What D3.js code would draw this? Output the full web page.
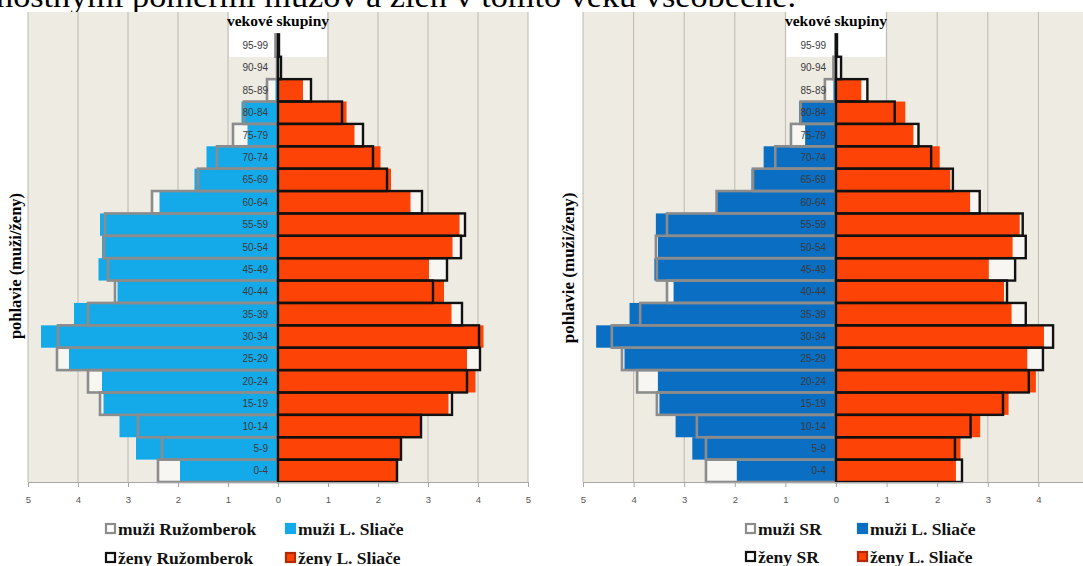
<!DOCTYPE html>
<html>
<head>
<meta charset="utf-8">
<script src="https://cdn.jsdelivr.net/npm/d3@7"></script>
<style>
  body { margin: 0; background: #fff; overflow: hidden; }
  svg { display: block; }
</style>
</head>
<body>
<svg id="chart" width="1083" height="566"></svg>
<script>
// age groups bottom -> top
const ageGroups = ["0-4", "5-9", "10-14", "15-19", "20-24", "25-29", "30-34", "35-39", "40-44", "45-49",
  "50-54", "55-59", "60-64", "65-69", "70-74", "75-79", "80-84", "85-89", "90-94", "95-99"];
const tickValues = [-5, -4, -3, -2, -1, 0, 1, 2, 3, 4, 5];

// percentages of population
const muziSliace = [1.96, 2.84, 3.17, 3.49, 3.52, 4.18, 4.74, 4.08, 3.21, 3.59, 3.52, 3.56, 2.37, 1.67, 1.43, 0.61, 0.73, 0.05, 0, 0];
const zenySliace = [2.37, 2.46, 2.85, 3.41, 3.95, 3.78, 4.11, 3.47, 3.32, 3.02, 3.49, 3.63, 2.65, 2.26, 2.05, 1.53, 1.37, 0.5, 0.02, 0.01];
const muziRuzomberok = [2.4, 2.32, 2.8, 3.56, 3.8, 4.42, 4.4, 3.8, 3.26, 3.4, 3.48, 3.46, 2.52, 1.6, 1.22, 0.9, 0.68, 0.22, 0.02, 0.05];
const zenyRuzomberok = [2.38, 2.46, 2.86, 3.48, 3.78, 4.04, 4.02, 3.68, 3.1, 3.38, 3.66, 3.74, 2.88, 2.18, 1.9, 1.7, 1.28, 0.66, 0.06, 0.02];
const muziSR = [2.57, 2.57, 2.75, 3.54, 3.93, 4.23, 4.43, 3.87, 3.34, 3.54, 3.56, 3.34, 2.36, 1.64, 1.2, 0.89, 0.7, 0.22, 0.05, 0.01];
const zenySR = [2.49, 2.35, 2.66, 3.3, 3.81, 4.09, 4.29, 3.75, 3.38, 3.54, 3.75, 3.69, 2.84, 2.31, 1.88, 1.63, 1.16, 0.62, 0.1, 0.02];

const red = "#fd4306";
const greyLine = "#8c8c8c";
const blackLine = "#111";
const serif = "'Liberation Serif', 'Times New Roman', serif";

const svg = d3.select("#chart");

// cut-off line of the page text above the charts
svg.append("text")
  .attr("x", -4)
  .attr("y", 7)
  .attr("font-family", serif)
  .attr("font-size", 31)
  .attr("textLength", 800)
  .attr("lengthAdjust", "spacingAndGlyphs")
  .attr("fill", "#000")
  .text("nostnými pomermi mužov a žien v tomto veku všeobecne.");

function drawPyramid(cfg) {
  const g = svg.append("g");

  const x = d3.scaleLinear().domain([-5, 5]).range([cfg.left, cfg.right]);
  // one empty slot on top for the title
  const y = d3.scaleBand()
    .domain([...ageGroups, "top"])
    .range([cfg.bottom, cfg.top]);
  const zero = x(0);

  g.append("rect")
    .attr("x", cfg.left)
    .attr("y", cfg.top)
    .attr("width", cfg.right - cfg.left)
    .attr("height", cfg.bottom - cfg.top)
    .attr("fill", "#eeebe3");

  g.selectAll(".grid")
    .data(tickValues.filter((d) => d !== 0))
    .join("line")
    .attr("x1", (d) => x(d))
    .attr("x2", (d) => x(d))
    .attr("y1", cfg.top)
    .attr("y2", cfg.bottom)
    .attr("stroke", "#bdb8ae")
    .attr("stroke-width", 1);

  // white box behind title
  g.append("rect")
    .attr("x", x(-1) + 1)
    .attr("y", cfg.top)
    .attr("width", x(1) - x(-1) - 2)
    .attr("height", 45)
    .attr("fill", "#fff");

  const rows = ageGroups.map((age, i) => ({
    age,
    m: cfg.muzi[i],
    z: cfg.zeny[i],
    mRef: cfg.muziRef[i],
    zRef: cfg.zenyRef[i],
  }));

  // light fill of reference outlines
  g.selectAll(".refm")
    .data(rows)
    .join("rect")
    .attr("x", (d) => x(-d.mRef))
    .attr("y", (d) => y(d.age))
    .attr("width", (d) => zero - x(-d.mRef))
    .attr("height", y.bandwidth())
    .attr("fill", "#f7f6f2");

  g.selectAll(".refz")
    .data(rows)
    .join("rect")
    .attr("x", zero)
    .attr("y", (d) => y(d.age))
    .attr("width", (d) => x(d.zRef) - zero)
    .attr("height", y.bandwidth())
    .attr("fill", "#f7f6f2");

  // L. Sliače bars
  g.selectAll(".barm")
    .data(rows)
    .join("rect")
    .attr("x", (d) => x(-d.m))
    .attr("y", (d) => y(d.age))
    .attr("width", (d) => zero - x(-d.m))
    .attr("height", y.bandwidth())
    .attr("fill", cfg.blue);

  g.selectAll(".barz")
    .data(rows)
    .join("rect")
    .attr("x", zero)
    .attr("y", (d) => y(d.age))
    .attr("width", (d) => x(d.z) - zero)
    .attr("height", y.bandwidth())
    .attr("fill", red);

  // reference outlines on top
  g.selectAll(".outm")
    .data(rows)
    .join("rect")
    .attr("x", (d) => x(-d.mRef))
    .attr("y", (d) => y(d.age))
    .attr("width", (d) => zero - x(-d.mRef))
    .attr("height", y.bandwidth())
    .attr("fill", "none")
    .attr("stroke", greyLine)
    .attr("stroke-width", 2.6);

  g.selectAll(".outz")
    .data(rows)
    .join("rect")
    .attr("x", zero)
    .attr("y", (d) => y(d.age))
    .attr("width", (d) => x(d.zRef) - zero)
    .attr("height", y.bandwidth())
    .attr("fill", "none")
    .attr("stroke", blackLine)
    .attr("stroke-width", 2.4);

  // category labels
  g.selectAll(".cat")
    .data(ageGroups)
    .join("text")
    .attr("x", zero - 10)
    .attr("y", (d) => y(d) + y.bandwidth() / 2 + 3.5)
    .attr("text-anchor", "end")
    .attr("font-family", "'Liberation Sans', Arial, sans-serif")
    .attr("font-size", 10)
    .attr("fill", "#3a3a3a")
    .text((d) => d);

  g.append("text")
    .attr("x", zero)
    .attr("y", cfg.top + 14)
    .attr("text-anchor", "middle")
    .attr("font-family", serif)
    .attr("font-weight", "bold")
    .attr("font-size", 15.5)
    .text("vekové skupiny");

  // bottom axis
  const axis = g.append("g")
    .attr("transform", `translate(0, ${cfg.bottom})`)
    .call(d3.axisBottom(x).tickValues(tickValues).tickSize(5).tickFormat((d) => Math.abs(d)));
  axis.select(".domain").attr("stroke", "#a6a6a6");
  axis.selectAll(".tick line").attr("stroke", "#a6a6a6");
  axis.selectAll(".tick text")
    .attr("y", 14)
    .attr("font-family", "'Liberation Sans', Arial, sans-serif")
    .attr("font-size", 9.5)
    .attr("fill", "#555");

  g.append("text")
    .attr("transform", `translate(${cfg.yTitleX}, ${cfg.yTitleY}) rotate(-90)`)
    .attr("text-anchor", "middle")
    .attr("font-family", serif)
    .attr("font-weight", "bold")
    .attr("font-size", cfg.yTitleSize)
    .text("pohlavie (muži/ženy)");

  // legend
  const legend = [
    { label: `muži ${cfg.refName}`, col: 0, row: 0, fill: "#fff", stroke: greyLine },
    { label: "muži L. Sliače", col: 1, row: 0, fill: cfg.blue, stroke: cfg.blue },
    { label: `ženy ${cfg.refName}`, col: 0, row: 1, fill: "#fff", stroke: blackLine },
    { label: "ženy L. Sliače", col: 1, row: 1, fill: red, stroke: "#b02a0a" },
  ];
  const item = g.selectAll(".legend")
    .data(legend)
    .join("g")
    .attr("transform", (d) => `translate(${cfg.legendX[d.col]}, ${cfg.legendY[d.row]})`);
  item.append("rect")
    .attr("x", 0)
    .attr("y", -11)
    .attr("width", 9)
    .attr("height", 9)
    .attr("fill", (d) => d.fill)
    .attr("stroke", (d) => d.stroke)
    .attr("stroke-width", 2.2);
  item.append("text")
    .attr("x", 12)
    .attr("y", 0)
    .attr("font-family", serif)
    .attr("font-weight", "bold")
    .attr("font-size", 17.5)
    .attr("fill", "#111")
    .text((d) => d.label);
}

drawPyramid({
  left: 28, right: 528, top: 12, bottom: 482,
  blue: "#14aaea",
  muzi: muziSliace, zeny: zenySliace,
  muziRef: muziRuzomberok, zenyRef: zenyRuzomberok,
  refName: "Ružomberok",
  yTitleX: 21, yTitleY: 266, yTitleSize: 16.5,
  legendX: [106, 286],
  legendY: [535, 564],
});

drawPyramid({
  left: 583, right: 1089, top: 12, bottom: 482,
  blue: "#0a6ec2",
  muzi: muziSliace, zeny: zenySliace,
  muziRef: muziSR, zenyRef: zenySR,
  refName: "SR",
  yTitleX: 574, yTitleY: 268, yTitleSize: 17,
  legendX: [746, 858],
  legendY: [535, 563],
});
</script>
</body>
</html>
